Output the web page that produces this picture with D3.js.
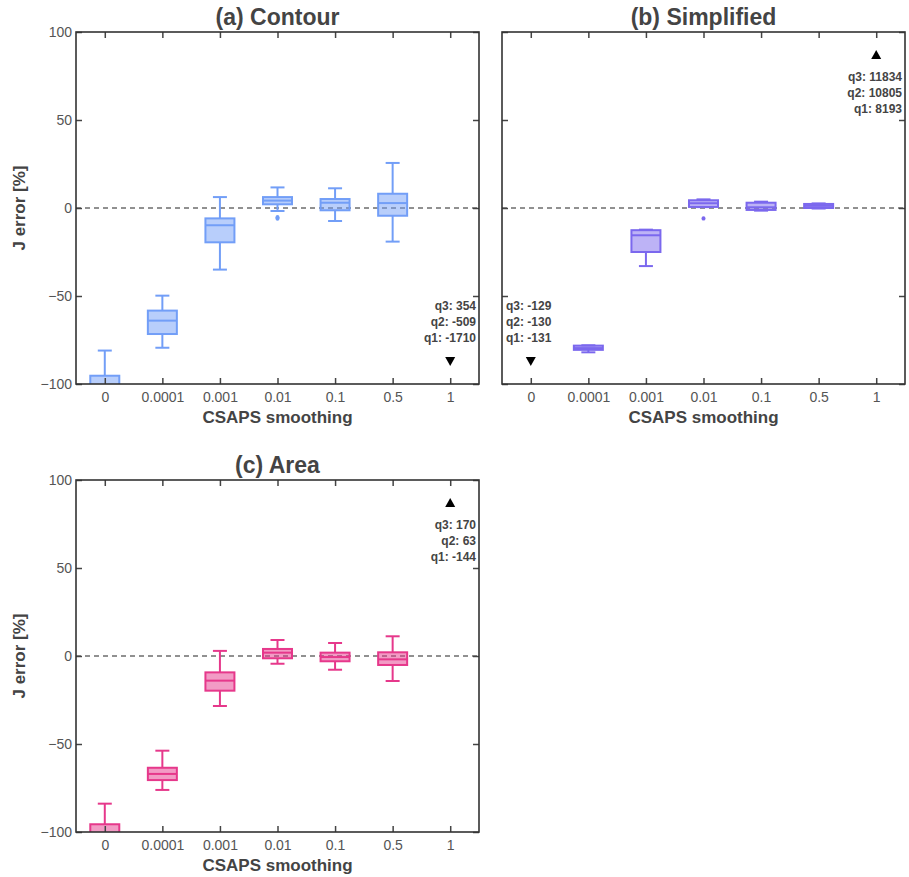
<!DOCTYPE html>
<html><head><meta charset="utf-8">
<script src="https://cdn.jsdelivr.net/npm/d3@7"></script>
<style>body{margin:0;background:#fff;}svg{display:block;font-family:"Liberation Sans",Arial,sans-serif;}</style>
</head><body>
<svg id="chart" width="909" height="877"></svg>
<script>
const categories = ["0","0.0001","0.001","0.01","0.1","0.5","1"];
const yTicks = [-100,-50,0,50,100];

// box stats: [lowWhisker, q1, median, q3, highWhisker] ; null = off chart
const contourBoxes = [
  [-106,-103,-101,-95.3,-81],
  [-79.4,-71.6,-64,-58.3,-49.8],
  [-35,-19.5,-9.8,-5.9,6.2],
  [-1.7,2.1,4.2,6.2,11.7],
  [-7.4,-1.3,3.0,5.1,11.2],
  [-19.1,-4.4,2.8,8.1,25.6],
  null
];
const contourOutliers = [[3,-5.2],[3,-6.0]];
const contourOff = {cat:"1", dir:"down", q3:"354", q2:"-509", q1:"-1710"};

const simplifiedBoxes = [
  null,
  [-82,-80.6,-79.6,-78.2,-78],
  [-33,-25,-15.5,-12.6,-12.3],
  [0.5,0.6,2.7,4.4,4.9],
  [-1.5,-1.1,0.4,3.0,3.6],
  [-0.3,0.0,1.2,2.3,2.6],
  null
];
const simplifiedOutliers = [[3,-5.9]];
const simplifiedOff = [
  {cat:"0", dir:"down", q3:"-129", q2:"-130", q1:"-131"},
  {cat:"1", dir:"up", q3:"11834", q2:"10805", q1:"8193"}
];

const areaBoxes = [
  [-106,-103,-101,-95.6,-83.9],
  [-76.1,-70.5,-67,-63.5,-53.8],
  [-28.4,-19.7,-14,-9.3,2.9],
  [-4.4,-1.3,1.9,4.0,9.1],
  [-7.8,-3.0,-0.6,1.9,7.4],
  [-14.2,-5.1,-1.9,2.1,11.2],
  null
];
const areaOutliers = [];
const areaOff = {cat:"1", dir:"up", q3:"170", q2:"63", q1:"-144"};

const svg = d3.select("#chart");
const textCol = "#444";

const panels = [
  {id:"a", title:"(a) Contour", left:76, top:32, boxes:contourBoxes, outliers:contourOutliers, off:[contourOff], stroke:"#729ef7", fill:"rgba(114,158,247,0.5)", ylabels:true},
  {id:"b", title:"(b) Simplified", left:502, top:32, boxes:simplifiedBoxes, outliers:simplifiedOutliers, off:simplifiedOff, stroke:"#7b68ee", fill:"rgba(123,104,238,0.5)", ylabels:false},
  {id:"c", title:"(c) Area", left:76, top:480, boxes:areaBoxes, outliers:areaOutliers, off:[areaOff], stroke:"#e6388b", fill:"rgba(230,56,139,0.5)", ylabels:true}
];
const W = 403, H = 352;

panels.forEach(p => {
  const g = svg.append("g").attr("transform", `translate(${p.left},${p.top})`);
  const x = d3.scalePoint().domain(categories).range([0, W]).padding(0.5);
  const y = d3.scaleLinear().domain([-100,100]).range([H,0]);
  const clipId = "clip-" + p.id;
  svg.append("defs").append("clipPath").attr("id", clipId)
    .append("rect").attr("x",0).attr("y",0).attr("width",W).attr("height",H);

  // zero line
  g.append("line").attr("x1",0).attr("x2",W).attr("y1",y(0)).attr("y2",y(0))
    .attr("stroke","#222").attr("stroke-width",1).attr("stroke-dasharray","5,4");

  const plot = g.append("g").attr("clip-path", `url(#${clipId})`);
  const bw = 29, cw = 14;
  p.boxes.forEach((b, i) => {
    if (!b) return;
    const cx = x(categories[i]);
    const [lw, q1, med, q3, hw] = b;
    const bg = plot.append("g").attr("stroke", p.stroke).attr("stroke-width", 2).attr("fill","none");
    bg.append("line").attr("x1",cx).attr("x2",cx).attr("y1",y(hw)).attr("y2",y(q3));
    bg.append("line").attr("x1",cx).attr("x2",cx).attr("y1",y(q1)).attr("y2",y(lw));
    bg.append("line").attr("x1",cx-cw/2).attr("x2",cx+cw/2).attr("y1",y(hw)).attr("y2",y(hw));
    bg.append("line").attr("x1",cx-cw/2).attr("x2",cx+cw/2).attr("y1",y(lw)).attr("y2",y(lw));
    bg.append("rect").attr("x",cx-bw/2).attr("y",y(q3)).attr("width",bw).attr("height",y(q1)-y(q3))
      .attr("fill",p.fill);
    bg.append("line").attr("x1",cx-bw/2).attr("x2",cx+bw/2).attr("y1",y(med)).attr("y2",y(med));
  });
  p.outliers.forEach(o => {
    plot.append("ellipse").attr("cx", x(categories[o[0]])).attr("cy", y(o[1])).attr("rx",2).attr("ry",2.2)
      .attr("fill", p.stroke);
  });

  // off-chart markers
  p.off.forEach(o => {
    const cx = x(o.cat);
    const s = 5;
    let ty, lines;
    if (o.dir === "down") {
      ty = H - 23;
      g.append("path").attr("d", `M${cx-s},${ty-4} L${cx+s},${ty-4} L${cx},${ty+5} Z`).attr("fill","#000");
      lines = [["q3: "+o.q3, ty-51],["q2: "+o.q2, ty-35],["q1: "+o.q1, ty-19]];
    } else {
      ty = 23;
      g.append("path").attr("d", `M${cx-s},${ty+4} L${cx+s},${ty+4} L${cx},${ty-5} Z`).attr("fill","#000");
      lines = [["q3: "+o.q3, ty+26],["q2: "+o.q2, ty+42],["q1: "+o.q1, ty+58]];
    }
    const leftSide = cx < W/2;
    lines.forEach(l => {
      g.append("text").attr("x", leftSide ? 4 : W - 3).attr("y", l[1])
        .attr("text-anchor", leftSide ? "start" : "end")
        .attr("font-size", 12).attr("font-weight","bold").attr("fill", textCol).text(l[0]);
    });
  });

  // axes
  const axB = g.append("g").attr("transform",`translate(0,${H})`).call(d3.axisBottom(x).tickSize(-6).tickPadding(8));
  const axT = g.append("g").call(d3.axisTop(x).tickSize(-6).tickFormat(""));
  const axL = g.append("g").call(d3.axisLeft(y).tickValues(yTicks).tickSize(-6).tickPadding(4).tickFormat(p.ylabels ? d => d3.format("")(d).replace("-","\u2212") : ""));
  const axR = g.append("g").attr("transform",`translate(${W},0)`).call(d3.axisRight(y).tickValues(yTicks).tickSize(-6).tickFormat(""));
  [axB,axT,axL,axR].forEach(a => {
    a.select(".domain").remove();
    a.selectAll(".tick line").attr("stroke","#444").attr("stroke-width",1.5);
    a.selectAll("text").attr("font-size",14).attr("fill","#555").attr("font-family","Liberation Sans, Arial, sans-serif");
  });
  // frame
  g.append("rect").attr("x",0).attr("y",0).attr("width",W).attr("height",H)
    .attr("fill","none").attr("stroke","#333").attr("stroke-width",1.6);

  // titles
  g.append("text").attr("x", W/2).attr("y", -7).attr("text-anchor","middle")
    .attr("font-size", 23).attr("font-weight","bold").attr("fill", textCol).text(p.title);
  g.append("text").attr("x", W/2).attr("y", H + 39).attr("text-anchor","middle")
    .attr("font-size", 17).attr("font-weight","bold").attr("fill", textCol).text("CSAPS smoothing");
  if (p.ylabels) {
    g.append("text").attr("transform", `translate(-51,${H/2}) rotate(-90)`).attr("text-anchor","middle")
      .attr("font-size", 17).attr("font-weight","bold").attr("fill", textCol).text("J error [%]");
  }
});
</script>
</body></html>
